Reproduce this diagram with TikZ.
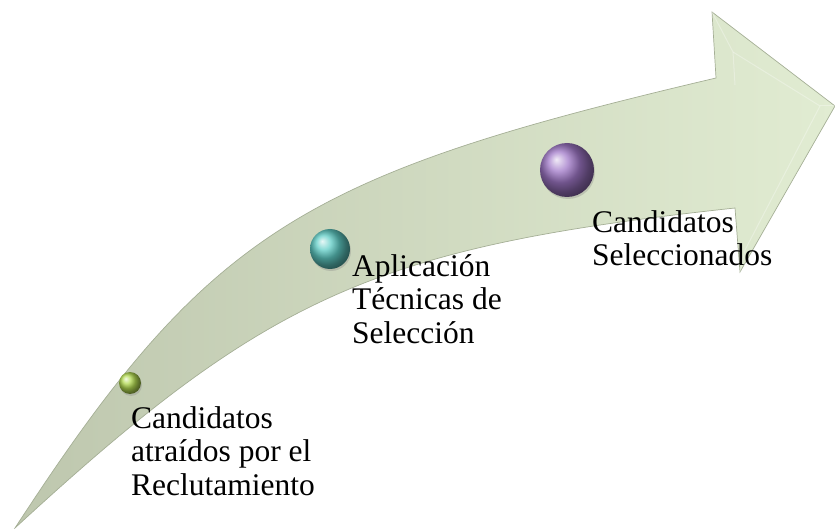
\documentclass[tikz,border=0pt]{standalone}
\usepackage{fontspec}
\setmainfont{Liberation Serif}
\usetikzlibrary{shadows}
\definecolor{bandA}{RGB}{190,199,174}
\definecolor{bandM}{RGB}{210,222,194}
\definecolor{bandB}{RGB}{225,236,210}
\definecolor{bandEdge}{RGB}{165,175,150}
\definecolor{ballGreen}{RGB}{178,218,80}
\definecolor{ballTeal}{RGB}{95,205,198}
\definecolor{ballPurple}{RGB}{160,120,200}
\tikzset{
  band/.style={left color=bandA, middle color=bandM, right color=bandB, draw=bandEdge, line width=0.7pt},
  bevel/.style={draw=white, opacity=0.3, line width=1pt},
  sphere/.style={circle, inner sep=0pt, drop shadow={shadow xshift=1pt, shadow yshift=-2pt, opacity=0.3}},
  lbl/.style={anchor=base west, align=left, inner sep=0pt, font=\fontsize{31.5}{33.5}\selectfont}
}
\begin{document}
\begin{tikzpicture}[x=1pt,y=-1pt]
\useasboundingbox (0,0) rectangle (835,529);
% curved arrow
\path[band] (15,528) .. controls (209,230) and (303,175) .. (716,78)
  -- (712,12) -- (835,106) -- (740,272) -- (735,208)
  .. controls (375,247) and (268,295) .. (15,528) -- cycle;
% bevel of the arrow head
\draw[bevel] (712,12) -- (733,52) -- (820,106) -- (745,250) -- (740,272);
\draw[bevel] (733,52) -- (735,85);
\draw[bevel] (820,106) -- (835,106);
% spheres
\node[sphere, minimum size=22pt, ball color=ballGreen] (s1) at (130,383) {};
\node[sphere, minimum size=40pt, ball color=ballTeal] (s2) at (330,249) {};
\node[sphere, minimum size=54pt, ball color=ballPurple] (s3) at (567,170) {};
% labels (anchored at the baseline of the last line)
\node[lbl] (t1) at (131,495) {Candidatos\\atraídos por el\\Reclutamiento};
\node[lbl] (t2) at (352,343) {Aplicación\\Técnicas de\\Selección};
\node[lbl] (t3) at (592,266) {Candidatos\\Seleccionados};
\end{tikzpicture}
\end{document}
